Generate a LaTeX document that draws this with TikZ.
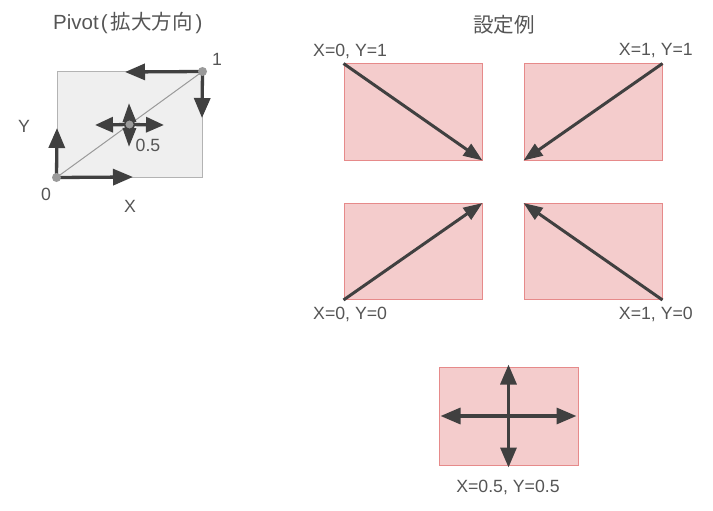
\documentclass[tikz,border=0pt]{standalone}
\usepackage{fontspec}
\setmainfont{Liberation Sans}
\newfontfamily\cjk{Noto Sans CJK JP}
\usetikzlibrary{arrows.meta}
\definecolor{txt}{HTML}{555555}
\definecolor{arr}{HTML}{404040}
\definecolor{pinkfill}{HTML}{F4CCCC}
\definecolor{pinkdraw}{HTML}{E68A8A}
\definecolor{grayfill}{HTML}{EFEFEF}
\definecolor{graydraw}{HTML}{B3B3B3}
\definecolor{dotgray}{HTML}{9A9A9A}
\tikzset{
  lbl/.style={text=txt,font=\fontsize{17.7}{20}\selectfont,inner sep=0pt},
  ttl/.style={text=txt,font=\fontsize{20.5}{24}\selectfont,inner sep=0pt},
  pinkbox/.style={draw=pinkdraw,fill=pinkfill,line width=1pt,minimum width=138pt,minimum height=96pt,inner sep=0pt},
  bigarrow/.style={draw=arr,line width=3.3pt,-{Triangle[length=20pt,width=16pt]}},
  diagarrow/.style={draw=arr,line width=3pt,-{Triangle[length=19pt,width=14pt]}},
  dotnode/.style={circle,fill=dotgray,minimum size=9pt,inner sep=0pt},
}
\begin{document}
\begin{tikzpicture}[x=1pt,y=-1pt]
\useasboundingbox (0,0) rectangle (713,511);
% left part
\node[ttl,anchor=west] (t1) at (53,23) {Pivot\hspace{2pt}(\hspace{3pt}{\cjk 拡大方向}\hspace{3pt})};
\node[draw=graydraw,fill=grayfill,line width=1pt,minimum width=145pt,minimum height=105pt,inner sep=0pt] (g) at (129.5,124.5) {};
\draw[dotgray,line width=1pt] (g.south west) -- (g.north east);
\coordinate (ptop) at (125,72);
\coordinate (pdown) at (202,118);
\coordinate (pup) at (57,128);
\coordinate (pright) at (133,177);
\coordinate (cl) at (95,125);
\coordinate (cr) at (164,125);
\coordinate (cu) at (129,103);
\coordinate (cd) at (129,147);
\draw[bigarrow] (g.north east) -- (ptop);
\draw[bigarrow] (g.north east) -- (pdown);
\draw[bigarrow] (g.south west) -- (pup);
\draw[bigarrow] (g.south west) -- (pright);
\node[dotnode] (d0) at (g.south west) {};
\node[dotnode] (d1) at (g.north east) {};
\coordinate (c) at (g.center);
\draw[bigarrow,-{Triangle[length=18pt,width=15pt]}] (c) -- (cl);
\draw[bigarrow,-{Triangle[length=18pt,width=15pt]}] (c) -- (cr);
\draw[bigarrow,-{Triangle[length=19pt,width=13pt]}] (c) -- (cu);
\draw[bigarrow,-{Triangle[length=19pt,width=13pt]}] (c) -- (cd);
\node[circle,fill=dotgray,draw=arr,line width=1.6pt,minimum size=10pt,inner sep=0pt] (dc) at (c) {};
\node[lbl] (l1) at (217,59) {1};
\node[lbl] (ly) at (24,126) {Y};
\node[lbl] (l0) at (46,194) {0};
\node[lbl] (lx) at (130,206) {X};
\node[lbl] (l05) at (148,145) {0.5};
% right part
\node[ttl] (t2) at (504,25) {\cjk 設定例};
\node[pinkbox] (b1) at (413,112) {};
\node[pinkbox] (b2) at (593,112) {};
\node[pinkbox] (b3) at (413,251.5) {};
\node[pinkbox] (b4) at (593,251.5) {};
\node[pinkbox,minimum width=139pt,minimum height=98pt] (b5) at (508.5,416) {};
\draw[diagarrow] (b1.north west) -- (b1.south east);
\draw[diagarrow] (b2.north east) -- (b2.south west);
\draw[diagarrow] (b3.south west) -- (b3.north east);
\draw[diagarrow] (b4.south east) -- (b4.north west);
\draw[bigarrow] (b5.center) -- ([xshift=-2pt]b5.east);
\draw[bigarrow] (b5.center) -- ([xshift=2pt]b5.west);
\draw[bigarrow] (b5.center) -- ([yshift=2pt]b5.north);
\draw[bigarrow] (b5.center) -- ([yshift=-2pt]b5.south);
\node[lbl,anchor=west] (lb1) at (313,51) {X=0, Y=1};
\node[lbl,anchor=east] (lb2) at (693,51) {X=1, Y=1};
\node[lbl,anchor=west] (lb3) at (313,314) {X=0, Y=0};
\node[lbl,anchor=east] (lb4) at (693,314) {X=1, Y=0};
\node[lbl] (lb5) at (508,487) {X=0.5, Y=0.5};
\end{tikzpicture}
\end{document}
